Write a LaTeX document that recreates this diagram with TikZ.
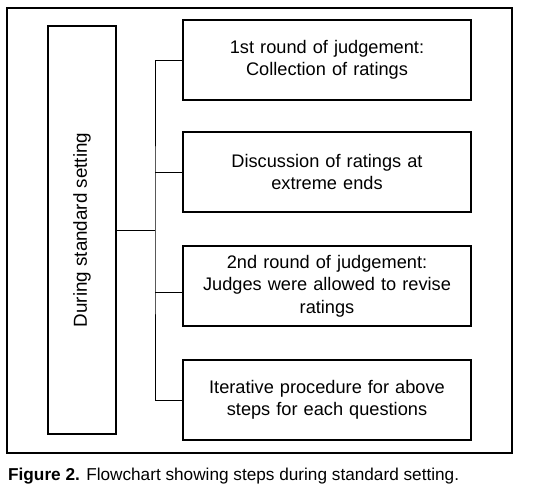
\documentclass[tikz,border=0pt]{standalone}
\usepackage{fontspec}
\setmainfont{Liberation Sans}
\usetikzlibrary{positioning,calc}
\tikzset{
  basebox/.style={rectangle,draw=black,line width=1.1pt,align=center,font=\fontsize{18.2}{22.5}\selectfont},
  stepnode/.style={basebox,minimum width=288pt,minimum height=80pt,text width=280pt},
  phasenode/.style={basebox,rotate=90,minimum width=408pt,minimum height=68pt,font=\fontsize{18.8}{22}\selectfont},
  link/.style={line width=1pt,color=black}
}
\begin{document}
\begin{tikzpicture}[x=1pt,y=-1pt]
  \useasboundingbox (0,0) rectangle (548,495);
  %% outer frame
  \draw[line width=1.1pt] (7,8) rectangle (512,453);

  %% phase box
  \node[phasenode] (phase) at (82,230) {During standard setting};

  %% steps
  \node[stepnode] (s1) at (327,60)  {1st round of judgement:\\Collection of ratings};
  \node[stepnode] (s2) at (327,172) {Discussion of ratings at\\extreme ends};
  \node[stepnode] (s3) at (327,286) {2nd round of judgement:\\Judges were allowed to revise\\ratings};
  \node[stepnode] (s4) at (327,400) {Iterative procedure for above\\steps for each questions};

  %% connectors
  \coordinate (trunk) at (155,230);
  \draw[link] (phase.south) -- (trunk);
  \draw[link] (s1.west) -| (trunk) |- (s4.west);
  \draw[link] (s2.west) -- (s2.west-|trunk);
  \draw[link] ([yshift=-6pt]s3.west) -- ([yshift=-6pt]s3.west-|trunk);

  %% caption
  \node[anchor=base west,inner sep=0pt,font=\fontsize{17.2}{20}\selectfont] (cap) at (8,480)
    {\textbf{Figure 2.} Flowchart showing steps during standard setting.};
\end{tikzpicture}
\end{document}
